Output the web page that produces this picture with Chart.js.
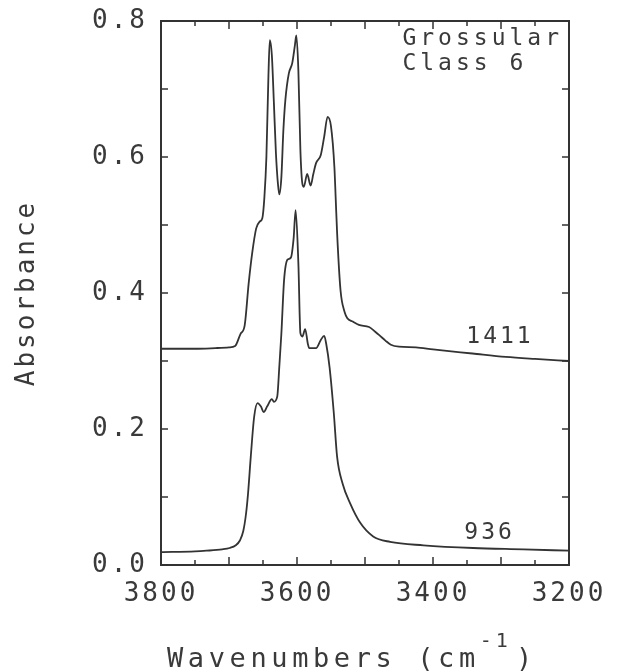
<!DOCTYPE html>
<html>
<head>
<meta charset="utf-8">
<script src="https://cdn.jsdelivr.net/npm/chart.js@4.4.1/dist/chart.umd.min.js"></script>
<style>
  html, body { margin: 0; padding: 0; background: #fff; }
  #wrap { width: 627px; height: 671px; position: relative; }
</style>
</head>
<body>
<div id="wrap"><canvas id="spectrum"></canvas></div>
<script>
// Wavenumbers (cm-1) and absorbance
const wn1411 = [3800, 3750, 3720, 3700, 3691, 3683, 3677, 3671, 3666, 3660, 3655, 3651, 3648, 3645, 3642, 3640,
    3637, 3634, 3631, 3628, 3626, 3623, 3620, 3617, 3612, 3607, 3603, 3601, 3598, 3595, 3592, 3590,
    3585, 3580, 3576, 3572, 3565, 3560, 3555, 3550, 3545, 3543, 3541, 3536, 3530, 3526, 3518, 3509,
    3494, 3485, 3479, 3470, 3462, 3450, 3425, 3400, 3342, 3293, 3250, 3200];
const abs1411 = [0.318, 0.318, 0.319, 0.320, 0.322, 0.340, 0.352, 0.415, 0.458, 0.495, 0.505, 0.510, 0.540, 0.600, 0.720, 0.772,
    0.750, 0.680, 0.606, 0.560, 0.545, 0.570, 0.640, 0.685, 0.723, 0.738, 0.765, 0.779, 0.728, 0.610, 0.560, 0.556,
    0.575, 0.558, 0.575, 0.591, 0.603, 0.630, 0.659, 0.645, 0.585, 0.537, 0.488, 0.404, 0.372, 0.363, 0.358, 0.353,
    0.350, 0.343, 0.338, 0.330, 0.324, 0.321, 0.320, 0.317, 0.311, 0.306, 0.303, 0.300];

const wn936 = [3800, 3750, 3733, 3710, 3699, 3690, 3684, 3679, 3675, 3672, 3668, 3663, 3658, 3653, 3649, 3644,
    3637, 3634, 3629, 3626, 3623, 3619, 3614, 3609, 3605, 3602, 3598, 3595, 3592, 3588, 3584, 3582,
    3572, 3565, 3560, 3557, 3552, 3546, 3541, 3533, 3522, 3507, 3488, 3463, 3414, 3341, 3267, 3200];
const abs936 = [0.019, 0.020, 0.021, 0.023, 0.025, 0.029, 0.036, 0.050, 0.075, 0.105, 0.159, 0.218, 0.238, 0.233, 0.225, 0.233,
    0.244, 0.240, 0.248, 0.292, 0.340, 0.419, 0.449, 0.452, 0.480, 0.522, 0.444, 0.341, 0.336, 0.347, 0.325, 0.319,
    0.319, 0.331, 0.337, 0.325, 0.290, 0.225, 0.159, 0.120, 0.091, 0.062, 0.042, 0.034, 0.029, 0.025, 0.023, 0.021];

const xLabels = [3800, 3600, 3400, 3200];
const yLabels = [0.0, 0.2, 0.4, 0.6, 0.8];

const ink = '#333';
const textInk = '#3a3a3a';
const mono = "'DejaVu Sans Mono', monospace";

const toPoints = (xs, ys) => xs.map((x, i) => ({ x: x, y: ys[i] }));

// frame, inward ticks and text notes
const framePlugin = {
    id: 'frame',
    beforeDraw(chart) {
        chart.ctx.letterSpacing = '3px';
    },
    afterDraw(chart) {
        const { ctx, chartArea: { left, right, top, bottom }, scales: { x, y } } = chart;
        ctx.save();
        ctx.strokeStyle = ink;
        ctx.lineWidth = 2;
        ctx.strokeRect(left, top, right - left, bottom - top);

        ctx.lineWidth = 1.5;
        ctx.beginPath();
        x.ticks.forEach(t => {
            const px = x.getPixelForValue(t.value);
            const len = t.value % 100 === 0 ? 8 : 5;
            ctx.moveTo(px, bottom); ctx.lineTo(px, bottom - len);
            ctx.moveTo(px, top); ctx.lineTo(px, top + len);
        });
        y.ticks.forEach(t => {
            const py = y.getPixelForValue(t.value);
            ctx.moveTo(left, py); ctx.lineTo(left + 7, py);
            ctx.moveTo(right, py); ctx.lineTo(right - 7, py);
        });
        ctx.stroke();

        ctx.fillStyle = textInk;
        ctx.textBaseline = 'alphabetic';
        ctx.textAlign = 'left';
        ctx.letterSpacing = '4px';
        ctx.font = '23px ' + mono;
        ctx.fillText('Grossular', x.getPixelForValue(3445), y.getPixelForValue(0.764));
        ctx.fillText('Class 6', x.getPixelForValue(3445), y.getPixelForValue(0.728));
        ctx.letterSpacing = '3px';
        ctx.fillText('1411', x.getPixelForValue(3351), y.getPixelForValue(0.326));
        ctx.fillText('936', x.getPixelForValue(3354), y.getPixelForValue(0.038));

        // x axis title with superscript
        ctx.letterSpacing = '4.6px';
        ctx.font = '27px ' + mono;
        let tx = 167;
        const ty = 667;
        ctx.fillText('Wavenumbers (cm', tx, ty);
        tx += ctx.measureText('Wavenumbers (cm').width;
        ctx.letterSpacing = '4px';
        ctx.font = '20px ' + mono;
        ctx.fillText('-1', tx, ty - 20);
        tx += ctx.measureText('-1').width + 4;
        ctx.font = '27px ' + mono;
        ctx.fillText(')', tx, ty);
        ctx.restore();
    }
};

const ctx = document.getElementById('spectrum').getContext('2d');
new Chart(ctx, {
    type: 'line',
    data: {
        datasets: [
            { label: '1411', data: toPoints(wn1411, abs1411) },
            { label: '936', data: toPoints(wn936, abs936) }
        ]
    },
    options: {
        responsive: true,
        maintainAspectRatio: false,
        animation: false,
        devicePixelRatio: 1,
        layout: { padding: { top: 21, right: 58, left: 0, bottom: 0 } },
        elements: {
            point: { radius: 0 },
            line: { borderColor: ink, borderWidth: 1.8, cubicInterpolationMode: 'monotone', fill: false }
        },
        plugins: { legend: { display: false }, tooltip: { enabled: false } },
        scales: {
            x: {
                type: 'linear',
                reverse: true,
                min: 3200,
                max: 3800,
                grid: { display: false, drawTicks: false },
                border: { display: false },
                ticks: {
                    stepSize: 50,
                    autoSkip: false,
                    maxRotation: 0,
                    padding: 14,
                    color: textInk,
                    font: { family: mono, size: 26 },
                    callback: v => xLabels.includes(v) ? String(v) : ''
                },
                afterFit: s => {
                    s.height = 106;
                    s.paddingLeft = 0;
                    s.paddingRight = 0;
                }
            },
            y: {
                min: 0,
                max: 0.8,
                grid: { display: false, drawTicks: false },
                border: { display: false },
                ticks: {
                    stepSize: 0.1,
                    autoSkip: false,
                    padding: 13,
                    color: textInk,
                    font: { family: mono, size: 26 },
                    callback: v => yLabels.some(l => Math.abs(l - v) < 1e-6) ? v.toFixed(1) : ''
                },
                title: {
                    display: true,
                    text: 'Absorbance',
                    color: textInk,
                    font: { family: mono, size: 26 },
                    padding: { top: 12, bottom: 0 }
                },
                afterFit: s => {
                    s.width = 161;
                    s.paddingTop = 0;
                    s.paddingBottom = 0;
                }
            }
        }
    },
    plugins: [framePlugin]
});
</script>
</body>
</html>
